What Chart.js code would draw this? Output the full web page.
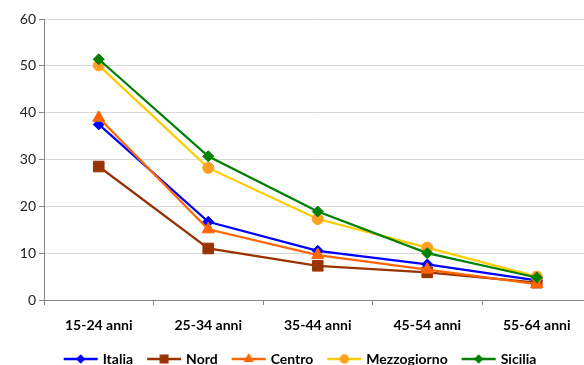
<!DOCTYPE html>
<html>
<head>
<meta charset="utf-8">
<script src="https://cdn.jsdelivr.net/npm/chart.js@4/dist/chart.umd.min.js"></script>
<style>
  html, body { margin: 0; padding: 0; background: #fff; overflow: hidden; }
  #wrap { position: relative; width: 600px; height: 365px; }
</style>
</head>
<body>
<div id="wrap"><canvas id="chart" width="600" height="365"></canvas></div>
<script>
// Age groups on the category axis
const categories = ['15-24 anni', '25-34 anni', '35-44 anni', '45-54 anni', '55-64 anni'];

// Values per area, one per age group
const italia      = [37.5, 16.7, 10.5, 7.6, 4.2];
const nord        = [28.5, 11.0, 7.3, 5.9, 3.7];
const centro      = [38.9, 15.1, 9.6, 6.5, 3.4];
const mezzogiorno = [50.1, 28.2, 17.3, 11.2, 5.0];
const sicilia     = [51.4, 30.7, 18.9, 10.0, 4.8];

// Value axis range
const yMin = 0, yMax = 60, yStep = 10;

const FONT = 'Lato, "Open Sans", sans-serif';

const series = [
  { label: 'Italia',      data: italia,      line: '#0000FF', fill: '#0000FF', style: 'rectRot',  r: 5.5, order: 5 },
  { label: 'Nord',        data: nord,        line: '#993300', fill: '#993300', style: 'rect',     r: 7.5, order: 4 },
  { label: 'Centro',      data: centro,      line: '#FF6600', fill: '#FF6600', style: 'triangle', r: 7,   order: 3 },
  { label: 'Mezzogiorno', data: mezzogiorno, line: '#FFCC00', fill: '#FFA020', style: 'circle',   r: 5.5, order: 2 },
  { label: 'Sicilia',     data: sicilia,     line: '#008000', fill: '#008000', style: 'rectRot',  r: 5.5, order: 1 }
];

// Small legend icon: a line segment with the series marker in the middle
function legendIcon(s) {
  const c = document.createElement('canvas');
  c.width = 36; c.height = 14;
  const g = c.getContext('2d');
  g.strokeStyle = s.line; g.lineWidth = 2.5;
  g.beginPath(); g.moveTo(1, 7); g.lineTo(35, 7); g.stroke();
  g.fillStyle = s.fill;
  const x = 18, y = 7, r = s.r * 0.85;
  g.beginPath();
  if (s.style === 'rectRot') {
    g.moveTo(x, y - r); g.lineTo(x + r, y); g.lineTo(x, y + r); g.lineTo(x - r, y);
  } else if (s.style === 'rect') {
    const h = r * Math.SQRT1_2; g.rect(x - h, y - h, 2 * h, 2 * h);
  } else if (s.style === 'triangle') {
    g.moveTo(x, y - r); g.lineTo(x + r * 0.866, y + r * 0.5); g.lineTo(x - r * 0.866, y + r * 0.5);
  } else {
    g.arc(x, y, r, 0, Math.PI * 2);
  }
  g.closePath(); g.fill();
  return c;
}

const icons = series.map(legendIcon);

new Chart(document.getElementById('chart'), {
  type: 'line',
  data: {
    labels: categories,
    datasets: series.map(s => ({
      label: s.label,
      data: s.data,
      borderColor: s.line,
      backgroundColor: s.fill,
      borderWidth: 2.25,
      pointStyle: s.style,
      pointRadius: s.r,
      pointHoverRadius: s.r,
      pointBackgroundColor: s.fill,
      pointBorderColor: s.fill,
      pointBorderWidth: 1,
      tension: 0,
      fill: false,
      order: s.order
    }))
  },
  options: {
    responsive: false,
    animation: false,
    events: [],
    layout: { padding: { top: 19, right: 6, left: 8, bottom: -11 } },
    scales: {
      x: {
        type: 'category',
        offset: true,
        grid: { offset: true, drawOnChartArea: false, drawTicks: true, tickLength: 5, color: '#868686', tickColor: '#868686' },
        border: { color: '#868686', width: 1 },
        ticks: { color: '#000', padding: 12, font: { family: FONT, size: 14, weight: 'bold' }, maxRotation: 0 },
        afterFit: (scale) => { scale.height = 36; }
      },
      y: {
        min: yMin, max: yMax,
        grid: { color: '#D9D9D9', lineWidth: 1, tickLength: 5, tickColor: '#868686' },
        border: { color: '#868686', width: 1 },
        ticks: { stepSize: yStep, color: '#222', padding: 3, font: { family: FONT, size: 14 } },
        afterFit: (scale) => { scale.width = 36; }
      }
    },
    plugins: {
      tooltip: { enabled: false },
      legend: {
        position: 'bottom',
        labels: {
          usePointStyle: true,
          pointStyleWidth: 30,
          padding: 16,
          color: '#000',
          font: { family: FONT, size: 14, weight: 'bold' },
          generateLabels: (chart) => chart.data.datasets.map((ds, i) => ({
            text: ds.label,
            fillStyle: ds.backgroundColor,
            strokeStyle: ds.borderColor,
            lineWidth: 0,
            pointStyle: icons[i],
            hidden: false,
            datasetIndex: i
          }))
        }
      }
    }
  }
});
</script>
</body>
</html>
